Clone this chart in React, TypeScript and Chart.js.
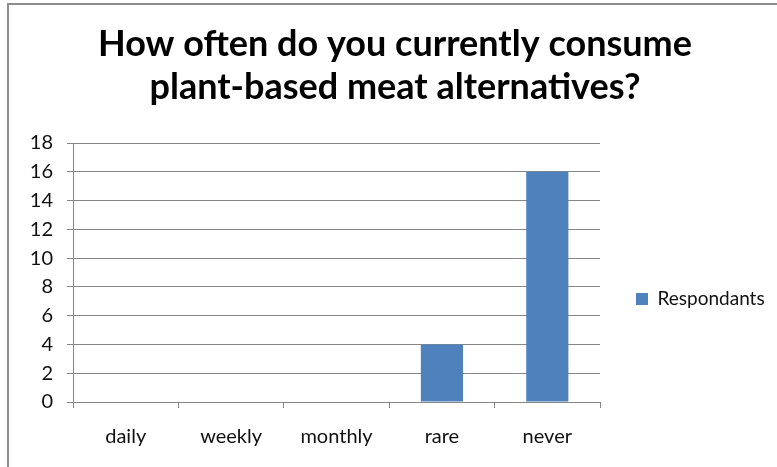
import React, { useEffect, useRef } from "react";
import { Chart, registerables } from "chart.js";

Chart.register(...registerables);

// Survey answers
const categories = ["daily", "weekly", "monthly", "rare", "never"];
const respondants = [0, 0, 0, 4, 16];
const seriesLabel = "Respondants";
const titleLines = ["How often do you currently consume", "plant-based meat alternatives?"];
const yMin = 0;
const yMax = 18;
const yStep = 2;

const FONT = "Lato, 'Open Sans', 'DejaVu Sans', sans-serif";
const GRID = "#868686";
const BAR = "#4f81bd";
const TEXT = "#111111";

const W = 777;
const H = 467;
const PLOT_LEFT = 73;
const PLOT_RIGHT = 600;
const PLOT_BOTTOM = 402;
const LEGEND_PAD = 36;
const LEGEND_BOX = 12;
const LEGEND_FONT = 19;
const TICK_FONT = 20;

export default function App() {
  const canvasRef = useRef<HTMLCanvasElement | null>(null);

  useEffect(() => {
    document.body.style.margin = "0";
    const canvas = canvasRef.current;
    if (!canvas) return;

    // width the legend will claim, so the plot ends where the gridlines end
    const m = document.createElement("canvas").getContext("2d")!;
    m.font = `${LEGEND_FONT}px ${FONT}`;
    const textW = m.measureText(seriesLabel).width;
    const legendW = LEGEND_PAD + LEGEND_BOX + LEGEND_FONT / 2 + textW + 10;
    const padRight = W - PLOT_RIGHT - legendW;
    const padLeft = padRight + 13;

    const chart = new Chart(canvas, {
      type: "bar",
      data: {
        labels: categories,
        datasets: [
          {
            label: seriesLabel,
            data: respondants,
            backgroundColor: BAR,
            borderWidth: 0,
            barPercentage: 0.4,
            categoryPercentage: 1.0,
          },
        ],
      },
      options: {
        responsive: false,
        animation: false,
        devicePixelRatio: 1,
        layout: { padding: { left: padLeft, right: padRight, top: 0, bottom: 0 } },
        plugins: {
          tooltip: { enabled: false },
          title: {
            display: true,
            text: titleLines,
            color: "#000",
            font: { family: FONT, size: 36, weight: "bold", lineHeight: 43 / 36 },
            padding: { top: 23, bottom: 34 },
          },
          legend: {
            display: true,
            position: "right",
            align: "center",
            title: {
              display: true,
              text: " ",
              font: { size: 10, lineHeight: 1 },
              padding: { top: 121, bottom: 0 },
            },
            labels: {
              boxWidth: LEGEND_BOX,
              boxHeight: LEGEND_BOX,
              padding: LEGEND_PAD,
              color: TEXT,
              font: { family: FONT, size: LEGEND_FONT },
            },
          },
        },
        scales: {
          x: {
            grid: {
              display: true,
              drawOnChartArea: false,
              drawTicks: true,
              tickLength: 6,
              color: GRID,
              offset: true,
            },
            border: { color: GRID },
            ticks: { color: TEXT, font: { family: FONT, size: TICK_FONT }, padding: 17 },
            afterFit: (s: any) => {
              s.height = H - PLOT_BOTTOM;
            },
          },
          y: {
            min: yMin,
            max: yMax,
            grid: { color: GRID, tickLength: 6 },
            border: { color: GRID },
            ticks: { stepSize: yStep, color: TEXT, font: { family: FONT, size: TICK_FONT }, padding: 14 },
            afterFit: (s: any) => {
              s.width = PLOT_LEFT - padLeft;
            },
          },
        },
      },
    });

    return () => chart.destroy();
  }, []);

  return (
    <div style={{ position: "relative", width: W, height: H, overflow: "hidden", background: "#fff" }}>
      <div
        style={{
          position: "absolute",
          left: 7,
          top: 3,
          width: 900,
          height: 600,
          border: "2px solid #8c8c8c",
          pointerEvents: "none",
        }}
      />
      <canvas ref={canvasRef} width={W} height={H} style={{ position: "absolute", left: 0, top: 0, display: "block" }} />
    </div>
  );
}
